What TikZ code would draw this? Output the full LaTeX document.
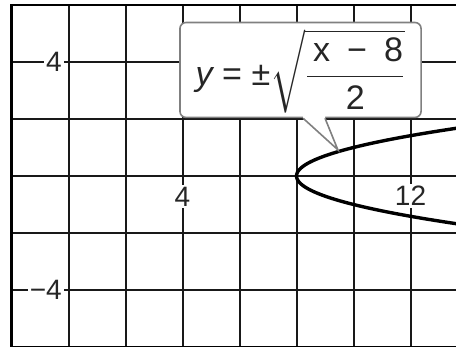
\documentclass[tikz,border=0pt]{standalone}
\usepackage{fontspec}
\usepackage{amsmath}
\setmainfont{Liberation Sans}
\usetikzlibrary{calc}
\begin{document}
\begin{tikzpicture}[x=0.5cm,y=0.5cm,
  gridline/.style={line width=1pt, draw=black!90},
  frameline/.style={line width=1.2pt, draw=black},
  axlabel/.style={fill=white, inner sep=1pt, font=\fontsize{14}{16}\selectfont, text=black!85},
  curveline/.style={line width=1.7pt, black},
  callout/.style={draw=black!50, line width=0.8pt, fill=white, rounded corners=3pt,
    minimum width=4.23cm, minimum height=1.665cm, inner sep=0pt},
  pointer/.style={draw=black!50, line width=0.8pt}
]
\useasboundingbox (-2.404,-6.0) rectangle (13.596,6.175);
% grid
\foreach \x in {0,2,...,12} \draw[gridline] (\x,-6) -- (\x,6);
\foreach \y in {-4,-2,0,2,4} \draw[gridline] (-2,\y) -- (13.7,\y);
\draw[frameline] (13.7,6) -- (-2,6) -- (-2,-6) -- (13.7,-6);
% labels
\node[axlabel, anchor=east] (ly4) at (-0.15,4) {4};
\node[axlabel, anchor=east] (lym4) at (-0.15,-4) {−4};
\node[axlabel] (lx4) at (4,-0.72) {4};
\node[axlabel] (lx12) at (12,-0.7) {12};
% curve
\draw[curveline, domain=-1.75:1.75, samples=80, smooth, variable=\t] plot ({2*\t*\t+8},{\t});
% callout
\node[callout] (eq) at (8.14,3.72) {};
\node[anchor=center, inner sep=0pt] (eqtext) at ($(eq.center)+(0,-0.05)$) {\fontsize{17}{20}\selectfont\color{black!85}$\textit{y} \mathrel{\text{=}} \text{±}\sqrt{\dfrac{\,\text{x\,\,\,−\,\,\,8}}{\text{2}}}$};
\coordinate (p1) at ($(eq.south)+(0.09,0)$);
\coordinate (p2) at ($(eq.south)+(0.86,0)$);
\coordinate (tip) at (9.45,0.92);
\fill[white] (p1) -- (tip) -- (p2) -- ($(p2)+(0,0.12)$) -- ($(p1)+(0,0.12)$) -- cycle;
\draw[pointer] (p1) -- (tip) -- (p2);
\end{tikzpicture}
\end{document}
